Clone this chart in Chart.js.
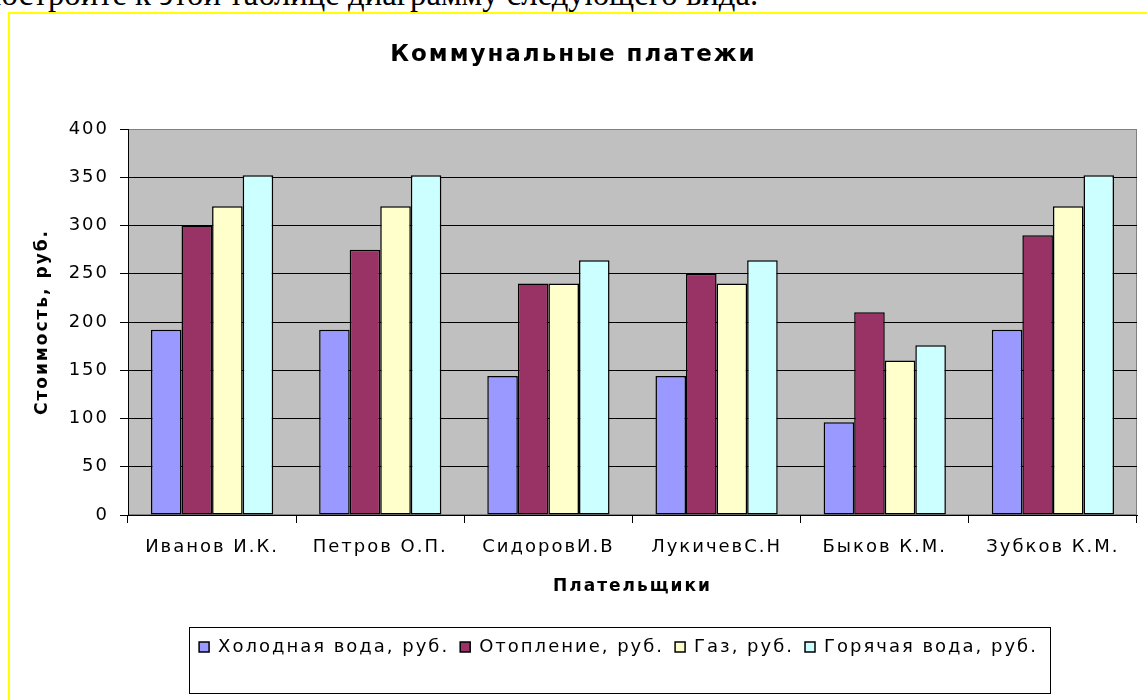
<!DOCTYPE html>
<html>
<head>
<meta charset="utf-8">
<script src="https://cdn.jsdelivr.net/npm/chart.js"></script>
<style>
  html, body { margin: 0; padding: 0; background: #fff; overflow: hidden; }
  body { width: 1147px; height: 700px; position: relative; }
  #zadanie { position: absolute; left: -22px; top: -22px; font: 32.7px/32px "Liberation Serif", "Times New Roman", serif; color: #000; white-space: nowrap; }
  #ramka { position: absolute; left: 8px; top: 12px; width: 1160px; height: 720px; border: 2px solid #ffff00; }
  #chart { display: block; }
</style>
</head>
<body>
<div id="zadanie">Постройте к этой таблице диаграмму следующего вида.</div>
<div id="ramka"><canvas id="chart" width="1137" height="686"></canvas></div>
<script>
// данные из таблицы
const platelshiki = ['Иванов И.К.', 'Петров О.П.', 'СидоровИ.В', 'ЛукичевС.Н', 'Быков К.М.', 'Зубков К.М.'];
const holodnayaVoda = [192, 192, 144, 144, 96, 192];
const otoplenie = [300, 275, 240, 250, 210, 290];
const gaz = [320, 320, 240, 240, 160, 320];
const goryachayaVoda = [352, 352, 264, 264, 176, 352];
const nazvaniya = ['Холодная вода, руб.', 'Отопление, руб.', 'Газ, руб.', 'Горячая вода, руб.'];
const cveta = ['#9999ff', '#993366', '#ffffcc', '#ccffff'];

const shrift = '"DejaVu Sans", Verdana, sans-serif';

// Excel рисует текст разреженно
const razryadka = {
    id: 'razryadka',
    beforeLayout(chart) { chart.ctx.letterSpacing = '2px'; },
    beforeDraw(chart) { chart.ctx.letterSpacing = '2px'; }
};

// серая область построения
const fon = {
    id: 'fon',
    beforeDraw(chart) {
        const a = chart.chartArea;
        const ctx = chart.ctx;
        ctx.save();
        ctx.fillStyle = '#c0c0c0';
        ctx.fillRect(a.left, a.top, a.right - a.left, a.bottom - a.top);
        ctx.strokeStyle = '#808080';
        ctx.lineWidth = 1;
        ctx.strokeRect(a.left + 0.5, a.top + 0.5, a.right - a.left - 1, a.bottom - a.top - 1);
        ctx.restore();
    }
};

// легенда в Excel стоит чуть левее центра области построения
const sdvigLegendy = {
    id: 'sdvigLegendy',
    afterLayout(chart) {
        chart.legend.left -= 14;
        chart.legend.right -= 14;
    }
};

// рамка вокруг легенды
const ramkaLegendy = {
    id: 'ramkaLegendy',
    afterDraw(chart) {
        const boxes = chart.legend.legendHitBoxes;
        if (!boxes || !boxes.length) return;
        const first = boxes[0];
        const last = boxes[boxes.length - 1];
        const cy = first.top + first.height / 2;
        const ctx = chart.ctx;
        ctx.save();
        ctx.strokeStyle = '#000';
        ctx.lineWidth = 1;
        ctx.strokeRect(Math.round(first.left - 10) + 0.5, Math.round(cy - 20) + 0.5,
            Math.round(last.left + last.width - first.left + 22), 66);
        ctx.restore();
    }
};

const ctx = document.getElementById('chart');
const dannye = [holodnayaVoda, otoplenie, gaz, goryachayaVoda];

new Chart(ctx, {
    type: 'bar',
    data: {
        labels: platelshiki,
        datasets: dannye.map(function (d, i) {
            return {
                label: nazvaniya[i],
                data: d,
                backgroundColor: cveta[i],
                borderColor: '#000',
                borderWidth: 1.5,
                borderSkipped: false,
                categoryPercentage: 0.727,
                barPercentage: 1
            };
        })
    },
    options: {
        responsive: false,
        animation: false,
        devicePixelRatio: 1,
        layout: { padding: { left: 0, right: 10, top: 0, bottom: 34 } },
        plugins: {
            title: {
                display: true,
                text: 'Коммунальные платежи',
                color: '#000',
                font: { family: shrift, size: 23, weight: 'bold' },
                padding: { top: 27, bottom: 60.4 }
            },
            legend: {
                position: 'bottom',
                fullSize: false,
                labels: {
                    color: '#000',
                    font: { family: shrift, size: 18 },
                    boxWidth: 10,
                    boxHeight: 10,
                    padding: 11
                }
            },
            tooltip: { enabled: false }
        },
        scales: {
            x: {
                grid: { drawOnChartArea: false, color: '#000', tickLength: 8 },
                border: { color: '#000', width: 1 },
                ticks: { color: '#000', font: { family: shrift, size: 18 }, padding: 14, maxRotation: 0 },
                title: {
                    display: true,
                    text: 'Плательщики',
                    color: '#000',
                    font: { family: shrift, size: 17, weight: 'bold' },
                    padding: { top: 0, bottom: 29.8 }
                },
                afterFit(scale) { scale.height = 112; }
            },
            y: {
                min: 0,
                max: 400,
                ticks: { stepSize: 50, color: '#000', font: { family: shrift, size: 18 }, padding: 11 },
                grid: {
                    color: function (c) { return c.tick && c.tick.value === 400 ? '#808080' : '#000'; },
                    tickColor: '#000',
                    tickLength: 8
                },
                border: { color: '#000', width: 1 },
                title: {
                    display: true,
                    text: 'Стоимость, руб.',
                    color: '#000',
                    font: { family: shrift, size: 17, weight: 'bold' },
                    padding: { top: 22, bottom: 0 }
                },
                afterFit(scale) { scale.width = 118; }
            }
        }
    },
    plugins: [razryadka, fon, sdvigLegendy, ramkaLegendy]
});
</script>
</body>
</html>
